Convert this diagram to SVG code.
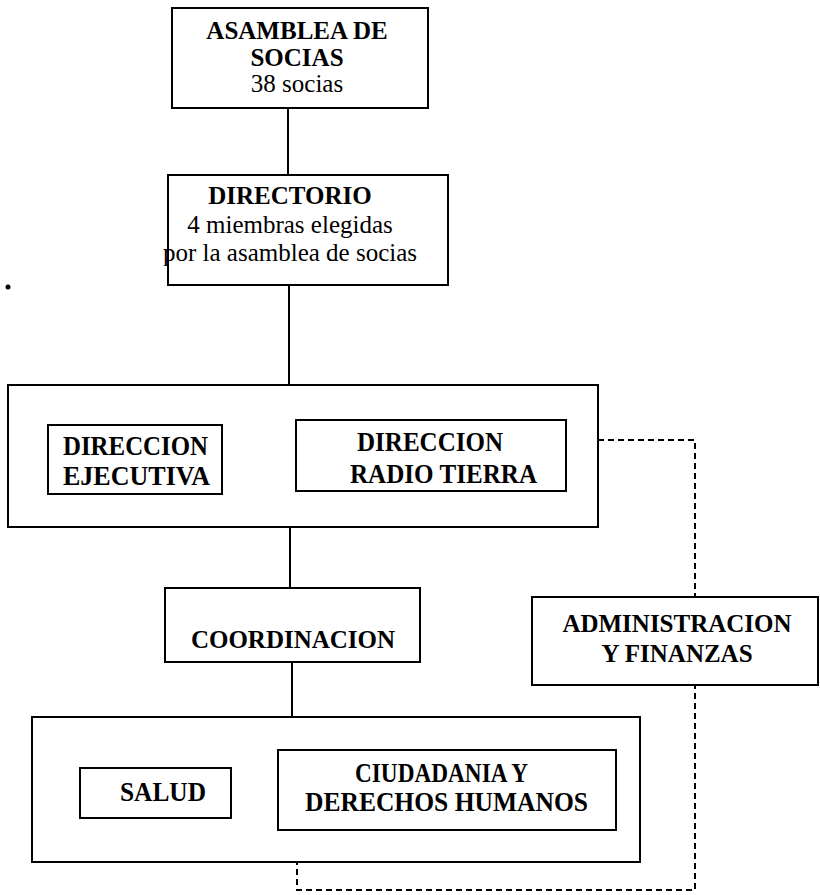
<svg xmlns="http://www.w3.org/2000/svg" width="820" height="895" viewBox="0 0 820 895">
<style>
.box{fill:#fff;stroke:#000;stroke-width:2}
.ln{fill:none;stroke:#000;stroke-width:2}
.dash{fill:none;stroke:#000;stroke-width:2;stroke-dasharray:6 4}
.b{font-family:"Liberation Serif","Times New Roman",serif;font-weight:bold;font-size:25px;text-anchor:middle;fill:#000}
.c{font-family:"Liberation Serif","Times New Roman",serif;font-weight:bold;font-size:27px;fill:#000}
.r{font-family:"Liberation Serif","Times New Roman",serif;font-size:25px;text-anchor:middle;fill:#000}
</style>
<rect width="820" height="895" fill="#fff"/>
<g id="connectors">
<line class="ln" x1="288" y1="108" x2="288" y2="175"/>
<line class="ln" x1="289" y1="285" x2="289" y2="385"/>
<line class="ln" x1="290" y1="527" x2="290" y2="588"/>
<line class="ln" x1="292" y1="662" x2="292" y2="717"/>
<polyline class="dash" points="598,440 695,440 695,890 297,890 297,862"/>
</g>
<g id="asamblea">
<rect class="box" x="172" y="8" width="256" height="100"/>
<text class="b" x="297" y="39">ASAMBLEA DE</text>
<text class="b" x="297" y="66">SOCIAS</text>
<text class="r" x="297" y="92">38 socias</text>
</g>
<g id="directorio">
<rect class="box" x="168" y="175" width="280" height="110"/>
<text class="b" x="290" y="204">DIRECTORIO</text>
<text class="r" x="290" y="233">4 miembras elegidas</text>
<text class="r" x="290" y="261">por la asamblea de socias</text>
</g>
<g id="direccion">
<rect class="box" x="8" y="385" width="590" height="142"/>
</g>
<g id="direccion-ejecutiva">
<rect class="box" x="48" y="425" width="174" height="69"/>
<text class="c" x="63" y="455" textLength="145" lengthAdjust="spacingAndGlyphs">DIRECCION</text>
<text class="c" x="63" y="485" textLength="147" lengthAdjust="spacingAndGlyphs">EJECUTIVA</text>
</g>
<g id="direccion-radio-tierra">
<rect class="box" x="296" y="420" width="270" height="71"/>
<text class="c" x="357" y="451" textLength="146" lengthAdjust="spacingAndGlyphs">DIRECCION</text>
<text class="c" x="350" y="483" textLength="187" lengthAdjust="spacingAndGlyphs">RADIO TIERRA</text>
</g>
<g id="coordinacion">
<rect class="box" x="165" y="588" width="255" height="74"/>
<text class="b" x="293" y="648">COORDINACION</text>
</g>
<g id="administracion">
<rect class="box" x="532" y="597" width="286" height="88"/>
<text class="b" x="677" y="632">ADMINISTRACION</text>
<text class="b" x="677" y="662">Y FINANZAS</text>
</g>
<g id="areas">
<rect class="box" x="32" y="717" width="608" height="145"/>
</g>
<g id="salud">
<rect class="box" x="80" y="768" width="151" height="50"/>
<text class="c" x="120" y="801" textLength="86" lengthAdjust="spacingAndGlyphs">SALUD</text>
</g>
<g id="ciudadania">
<rect class="box" x="278" y="750" width="338" height="80"/>
<text class="c" x="355" y="782" textLength="173" lengthAdjust="spacingAndGlyphs">CIUDADANIA Y</text>
<text class="c" x="305" y="811" textLength="283" lengthAdjust="spacingAndGlyphs">DERECHOS HUMANOS</text>
</g>
<circle cx="8" cy="287" r="2.5" fill="#000"/>
</svg>
